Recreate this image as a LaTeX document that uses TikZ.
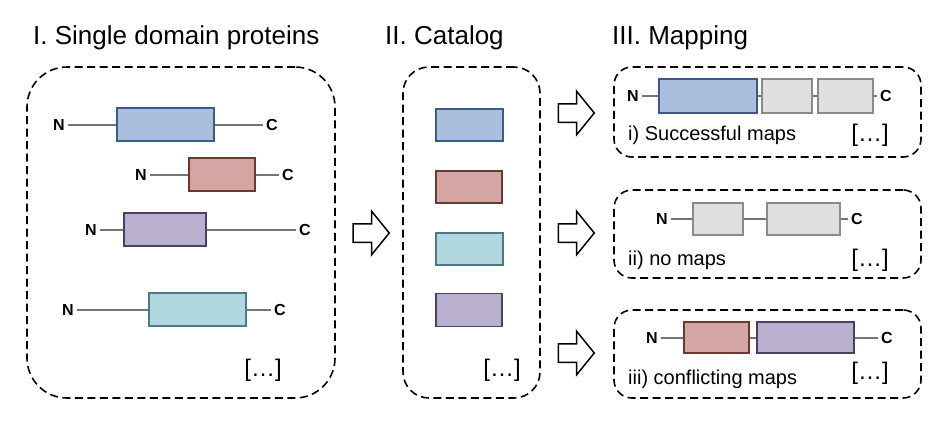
\documentclass[tikz,border=0pt]{standalone}
\usepackage{fontspec}
\setmainfont{Liberation Sans}
\usepackage{xcolor}
\usetikzlibrary{positioning,shapes.arrows}

\definecolor{domBlue}{HTML}{A9BFDD}
\definecolor{domBlueD}{HTML}{3F5A8A}
\definecolor{domRed}{HTML}{D4A6A3}
\definecolor{domRedD}{HTML}{6E3733}
\definecolor{domPurple}{HTML}{B9AFCF}
\definecolor{domPurpleD}{HTML}{4B3F66}
\definecolor{domCyan}{HTML}{B1D7E0}
\definecolor{domCyanD}{HTML}{4E7A88}
\definecolor{domGray}{HTML}{DFDFDF}
\definecolor{domGrayD}{HTML}{8A8A8A}
\definecolor{linker}{HTML}{747474}

\begin{document}
\begin{tikzpicture}[
  x=1pt, y=-1pt,
  group/.style={draw, dash pattern=on 8pt off 4.5pt, line width=1.6pt, rounded corners=#1, inner sep=0pt},
  dom/.style 2 args={draw=#1, fill=#2, line width=1.3pt, inner sep=0pt},
  bb/.style={line width=2pt, draw=linker},
  term/.style={font=\fontsize{16}{16}\selectfont\bfseries, inner sep=3pt},
  title/.style={font=\fontsize{26}{26}\selectfont, anchor=west, inner sep=0pt},
  caption/.style={font=\fontsize{20}{20}\selectfont, anchor=west, inner sep=0pt},
  etc/.style={font=\fontsize{24}{24}\selectfont, inner sep=0pt},
  barrow/.style={single arrow, draw, line width=1.5pt, fill=white, inner sep=8.5pt,
    minimum height=36pt, single arrow head extend=12.5pt, single arrow tip angle=102}
]
  \useasboundingbox (0,0) rectangle (940,423);

  % titles
  \node[title] (t1) at (33,38) {I. Single domain proteins};
  \node[title] (t2) at (385,38) {II. Catalog};
  \node[title] (t3) at (612,38) {III. Mapping};

  % I. single domain proteins
  \node[group=40pt, minimum width=308pt, minimum height=331pt] (g1) at (181,232.5) {};
  \node[dom={domBlueD}{domBlue}, minimum width=97pt, minimum height=33pt] (p1) at (165.5,124.5) {};
  \node[dom={domRedD}{domRed}, minimum width=66pt, minimum height=33pt] (p2) at (222,174.5) {};
  \node[dom={domPurpleD}{domPurple}, minimum width=82pt, minimum height=33pt] (p3) at (165,229.5) {};
  \node[dom={domCyanD}{domCyan}, minimum width=97pt, minimum height=33pt] (p4) at (197.5,309.5) {};
  \node[term] (p1n) at (59,124.5) {N};
  \node[term] (p1c) at (272,124.5) {C};
  \node[term] (p2n) at (141,174.5) {N};
  \node[term] (p2c) at (288,174.5) {C};
  \node[term] (p3n) at (91,229.5) {N};
  \node[term] (p3c) at (305,229.5) {C};
  \node[term] (p4n) at (68,309.5) {N};
  \node[term] (p4c) at (280,309.5) {C};
  \draw[bb] (p1n) -- (p1) -- (p1c);
  \draw[bb] (p2n) -- (p2) -- (p2c);
  \draw[bb] (p3n) -- (p3) -- (p3c);
  \draw[bb] (p4n) -- (p4) -- (p4c);
  \node[etc] (e1) at (263,370) {[…]};

  % II. catalog
  \node[group=26pt, minimum width=137pt, minimum height=331pt] (g2) at (471.5,232.5) {};
  \node[dom={domBlueD}{domBlue}, minimum width=67pt, minimum height=32pt] (k1) at (469.5,125) {};
  \node[dom={domRedD}{domRed}, minimum width=66pt, minimum height=32pt] (k2) at (469,187) {};
  \node[dom={domCyanD}{domCyan}, minimum width=67pt, minimum height=32pt] (k3) at (469.5,249) {};
  \node[dom={domPurpleD}{domPurple}, minimum width=66pt, minimum height=33pt] (k4) at (469,310) {};
  \node[etc] (e2) at (502,370) {[…]};

  % block arrows
  \node[barrow] (a0) at (367.5,233) {};
  \node[barrow] (a1) at (572.5,113) {};
  \node[barrow] (a2) at (572.5,233) {};
  \node[barrow] (a3) at (572.5,353) {};

  % III. mapping
  \node[group=18pt, minimum width=307pt, minimum height=90pt] (m1) at (767.5,112) {};
  \node[dom={domBlueD}{domBlue}, minimum width=98pt, minimum height=34pt] (m1a) at (708,96) {};
  \node[dom={domGrayD}{domGray}, minimum width=50pt, minimum height=34pt] (m1b) at (787,96) {};
  \node[dom={domGrayD}{domGray}, minimum width=55pt, minimum height=34pt] (m1c) at (845.5,96) {};
  \node[term] (m1n) at (633,96) {N};
  \node[term] (m1t) at (886,96) {C};
  \draw[bb] (m1n) -- (m1a) -- (m1b) -- (m1c) -- (m1t);
  \node[caption] (m1l) at (628,135) {i) Successful maps};
  \node[etc] (e3) at (870,135) {[…]};

  \node[group=18pt, minimum width=307pt, minimum height=88pt] (m2) at (767.5,234) {};
  \node[dom={domGrayD}{domGray}, minimum width=50pt, minimum height=32pt] (m2a) at (718,219) {};
  \node[dom={domGrayD}{domGray}, minimum width=73pt, minimum height=32pt] (m2b) at (803.5,219) {};
  \node[term] (m2n) at (662,219) {N};
  \node[term] (m2t) at (857,219) {C};
  \draw[bb] (m2n) -- (m2a) -- (m2b) -- (m2t);
  \node[caption] (m2l) at (628,260) {ii) no maps};
  \node[etc] (e4) at (870,260) {[…]};

  \node[group=18pt, minimum width=307pt, minimum height=88pt] (m3) at (767.5,354) {};
  \node[dom={domRedD}{domRed}, minimum width=65pt, minimum height=31pt] (m3a) at (716.5,337.5) {};
  \node[dom={domPurpleD}{domPurple}, minimum width=97pt, minimum height=31pt] (m3b) at (805.5,337.5) {};
  \node[term] (m3n) at (652,337.5) {N};
  \node[term] (m3t) at (887,337.5) {C};
  \draw[bb] (m3n) -- (m3a) -- (m3b) -- (m3t);
  \node[caption] (m3l) at (628,379) {iii) conflicting maps};
  \node[etc] (e5) at (870,373) {[…]};
\end{tikzpicture}
\end{document}
